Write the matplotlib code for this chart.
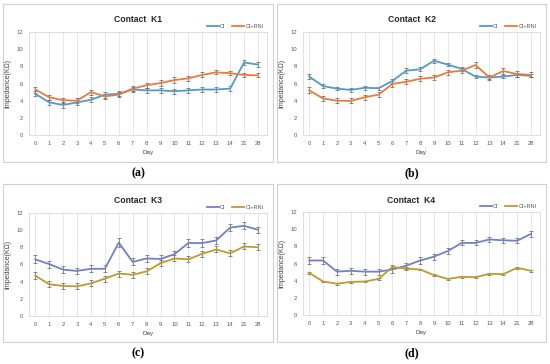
import matplotlib.pyplot as plt
import matplotlib.patches as mpatches
from matplotlib.lines import Line2D
import numpy as np

days = ["0", "1", "2", "3", "4", "5", "6", "7", "8", "9", "10", "11", "12", "13", "14", "21", "28"]

k1_ci = [4.8, 3.8, 3.5, 3.8, 4.1, 4.7, 4.8, 5.3, 5.2, 5.2, 5.1, 5.2, 5.3, 5.3, 5.4, 8.45, 8.2]
k1_rni = [5.3, 4.4, 4.05, 4.0, 5.0, 4.5, 4.7, 5.4, 5.8, 6.05, 6.4, 6.6, 7.0, 7.3, 7.2, 7.0, 6.95]
k1_ci_err = [0.3, 0.3, 0.3, 0.3, 0.3, 0.35, 0.3, 0.3, 0.3, 0.3, 0.3, 0.3, 0.3, 0.3, 0.3, 0.3, 0.3]
k1_rni_err = [0.35, 0.3, 0.3, 0.3, 0.3, 0.3, 0.3, 0.3, 0.3, 0.3, 0.3, 0.3, 0.3, 0.25, 0.25, 0.25, 0.25]

k2_ci = [6.8, 5.7, 5.4, 5.25, 5.5, 5.45, 6.3, 7.5, 7.65, 8.65, 8.2, 7.7, 6.8, 6.7, 6.8, 7.0, 6.9]
k2_rni = [5.2, 4.25, 4.0, 3.97, 4.4, 4.7, 5.95, 6.2, 6.55, 6.7, 7.3, 7.5, 8.15, 6.7, 7.45, 7.1, 7.0]
k2_ci_err = [0.25, 0.2, 0.2, 0.2, 0.2, 0.2, 0.2, 0.25, 0.25, 0.25, 0.2, 0.2, 0.2, 0.2, 0.2, 0.2, 0.2]
k2_rni_err = [0.35, 0.3, 0.3, 0.3, 0.3, 0.3, 0.3, 0.3, 0.3, 0.3, 0.3, 0.3, 0.35, 0.3, 0.35, 0.3, 0.3]

k3_ci = [6.6, 6.05, 5.4, 5.25, 5.5, 5.5, 8.55, 6.3, 6.7, 6.65, 7.2, 8.5, 8.5, 8.8, 10.3, 10.5, 10.05]
k3_rni = [4.7, 3.7, 3.5, 3.45, 3.8, 4.35, 4.95, 4.8, 5.2, 6.15, 6.7, 6.6, 7.25, 7.75, 7.3, 8.1, 8.0]
k3_ci_err = [0.45, 0.4, 0.4, 0.4, 0.4, 0.4, 0.5, 0.4, 0.4, 0.4, 0.4, 0.45, 0.45, 0.4, 0.4, 0.4, 0.35]
k3_rni_err = [0.4, 0.35, 0.35, 0.35, 0.35, 0.35, 0.35, 0.35, 0.35, 0.35, 0.35, 0.35, 0.35, 0.35, 0.35, 0.35, 0.35]

k4_ci = [6.35, 6.35, 5.05, 5.15, 5.05, 5.05, 5.3, 5.75, 6.35, 6.8, 7.45, 8.4, 8.4, 8.8, 8.7, 8.65, 9.45]
k4_rni = [4.9, 3.9, 3.65, 3.85, 3.9, 4.2, 5.6, 5.4, 5.3, 4.65, 4.2, 4.45, 4.4, 4.8, 4.75, 5.5, 5.15]
k4_ci_err = [0.35, 0.35, 0.35, 0.35, 0.35, 0.35, 0.35, 0.35, 0.35, 0.35, 0.3, 0.3, 0.3, 0.3, 0.3, 0.3, 0.35]
k4_rni_err = [0.15, 0.1, 0.1, 0.1, 0.1, 0.1, 0.2, 0.15, 0.1, 0.1, 0.1, 0.1, 0.1, 0.1, 0.1, 0.1, 0.1]

W, H = 550, 364
fig = plt.figure(figsize=(W / 100, H / 100), dpi=100)
fig.patch.set_facecolor("white")
plt.rcParams["font.family"] = ["Liberation Sans", "DejaVu Sans"]


def rect(x0, y0, x1, y1):
    return [x0 / W, 1 - y1 / H, (x1 - x0) / W, (y1 - y0) / H]


panels = [
    ("Contact  K1", k1_ci, k1_ci_err, k1_rni, k1_rni_err, "#4f9bc9", "#ee7a3a", (3, 4, 273, 162), (29, 32, 267, 135), "(a)"),
    ("Contact  K2", k2_ci, k2_ci_err, k2_rni, k2_rni_err, "#4f9bc9", "#ee7a3a", (277, 4, 546, 162), (303, 32, 540, 135), "(b)"),
    ("Contact  K3", k3_ci, k3_ci_err, k3_rni, k3_rni_err, "#7180c8", "#c09a2c", (3, 184, 273, 342), (29, 213, 267, 316), "(c)"),
    ("Contact  K4", k4_ci, k4_ci_err, k4_rni, k4_rni_err, "#7180c8", "#c09a2c", (277, 184, 546, 342), (303, 212, 540, 315), "(d)"),
]

x = np.arange(len(days))
for title, ci, ci_err, rni, rni_err, c1, c2, outer, inner, lab in panels:
    ox0, oy0, ox1, oy1 = outer
    box = mpatches.Rectangle((ox0 / W, 1 - oy1 / H), (ox1 - ox0) / W, (oy1 - oy0) / H,
                             transform=fig.transFigure, fill=False, edgecolor="#d0d0d0", lw=0.8)
    fig.patches.append(box)

    ax = fig.add_axes(rect(*inner))
    ax.errorbar(x, ci, yerr=ci_err, color=c1, lw=1.3, ecolor="#606060", elinewidth=0.5,
                capsize=1.3, capthick=0.5, zorder=3)
    ax.errorbar(x, rni, yerr=rni_err, color=c2, lw=1.3, ecolor="#606060", elinewidth=0.5,
                capsize=1.3, capthick=0.5, zorder=3)
    ax.set_xlim(-0.45, 16.65)
    ax.set_ylim(0, 12)
    ax.set_yticks(range(0, 13, 2))
    ax.set_xticks(x)
    ax.set_xticklabels(days)
    ax.tick_params(labelsize=4.2, colors="#595959", length=0, pad=4)
    ax.grid(axis="x", color="#e3e3e3", lw=0.6)
    for s in ax.spines.values():
        s.set_color("#d9d9d9")
        s.set_linewidth(0.6)
    ax.set_xlabel("Day", fontsize=4.5, color="#404040", labelpad=3)
    ax.set_ylabel("Impedance(KΩ)", fontsize=5, color="#404040", labelpad=4)

    cx = (ox0 + ox1) / 2
    fig.text(cx / W, 1 - (oy0 + 16) / H, title, ha="center", va="center", fontsize=6.2,
             fontweight="bold", color="#262626")
    handles = [Line2D([], [], color=c1, lw=1.3), Line2D([], [], color=c2, lw=1.3)]
    leg = ax.legend(handles, ["CI", "CI+RNI"], loc="lower right", bbox_to_anchor=(1.0, 1.0),
                    ncol=2, frameon=False, fontsize=4, handlelength=2.2, columnspacing=1.2,
                    handletextpad=0.2, borderaxespad=0.2)
    for t in leg.get_texts():
        t.set_color("#595959")
    fig.text(cx / W, 1 - (oy1 + 11) / H, lab, ha="center", va="center", fontsize=8.5,
             fontweight="bold", family="Liberation Serif")

fig.savefig("out.png", dpi=100)
